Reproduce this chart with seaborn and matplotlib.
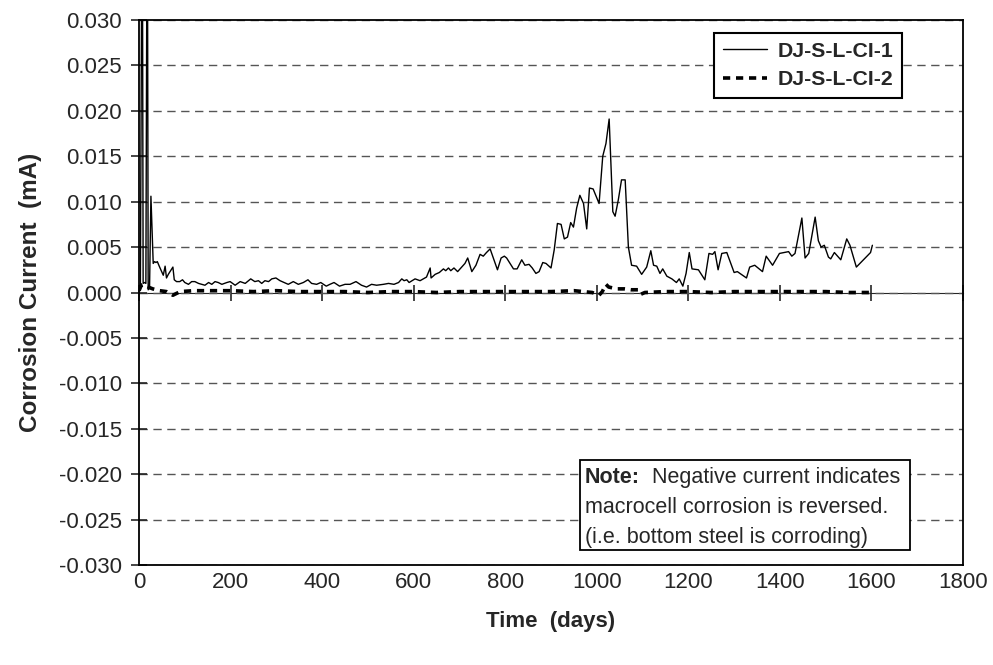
import numpy as np
import pandas as pd
import matplotlib
matplotlib.use("Agg")
import matplotlib.pyplot as plt
from matplotlib.patches import Rectangle
from matplotlib.ticker import FormatStrFormatter, MultipleLocator
import seaborn as sns

# series 1 : DJ-S-L-CI-1 (values in mA)
days1 = [0, 3, 7, 9, 12, 15, 18, 20, 23, 26,
         31, 34, 37, 40, 45, 53, 55, 57, 60, 64,
         74, 77, 82, 89, 95, 100, 108, 115, 122, 130,
         137, 144, 152, 159, 166, 173, 181, 192, 199, 210,
         221, 232, 244, 253, 261, 268, 275, 283, 290, 299,
         308, 317, 326, 337, 348, 359, 369, 377, 388, 397,
         409, 417, 426, 438, 450, 461, 474, 486, 497, 508,
         519, 534, 545, 557, 567, 574, 579, 585, 590, 603,
         614, 621, 628, 636, 638, 647, 656, 665, 670, 676,
         681, 688, 696, 705, 712, 718, 727, 736, 745, 752,
         759, 767, 774, 783, 791, 798, 803, 808, 818, 826,
         836, 843, 852, 859, 867, 874, 882, 889, 900, 907,
         914, 922, 929, 936, 943, 949, 956, 963, 971, 978,
         984, 992, 1005, 1013, 1020, 1027, 1035, 1040, 1047, 1054,
         1062, 1069, 1076, 1087, 1098, 1109, 1118, 1124, 1131, 1138,
         1144, 1153, 1164, 1174, 1180, 1188, 1195, 1202, 1208, 1222,
         1236, 1245, 1253, 1258, 1265, 1273, 1284, 1300, 1307, 1327,
         1334, 1345, 1362, 1370, 1384, 1399, 1419, 1426, 1433, 1448,
         1455, 1463, 1477, 1484, 1490, 1497, 1506, 1511, 1519, 1533,
         1546, 1553, 1567, 1598, 1602]
curr1 = [0.0003, 0.0006, 0.05, 0.0010, 0.0011, 0.0010, 0.05, 0.0003, 0.0005, 0.0106,
         0.0032, 0.0034, 0.0033, 0.0034, 0.0028, 0.0019, 0.0024, 0.0029, 0.0016, 0.0020,
         0.0028, 0.0014, 0.0012, 0.0012, 0.0014, 0.0011, 0.0009, 0.0012, 0.0012, 0.0010,
         0.0009, 0.0008, 0.0011, 0.0009, 0.0012, 0.0011, 0.0009, 0.0011, 0.0012, 0.0008,
         0.0012, 0.0010, 0.0015, 0.0012, 0.0013, 0.0010, 0.0013, 0.0012, 0.0015, 0.0016,
         0.0013, 0.0011, 0.0009, 0.0012, 0.0009, 0.0011, 0.0014, 0.0010, 0.0009, 0.0011,
         0.0007, 0.0009, 0.0011, 0.0007, 0.0009, 0.0009, 0.0012, 0.0008, 0.0006, 0.0009,
         0.0008, 0.0009, 0.0010, 0.0009, 0.0011, 0.0015, 0.0013, 0.0014, 0.0011, 0.0015,
         0.0013, 0.0015, 0.0017, 0.0027, 0.0016, 0.0020, 0.0022, 0.0026, 0.0024, 0.0027,
         0.0024, 0.0027, 0.0023, 0.0028, 0.0032, 0.0038, 0.0023, 0.0030, 0.0042, 0.0040,
         0.0044, 0.0048, 0.0038, 0.0025, 0.0038, 0.0040, 0.0038, 0.0034, 0.0026, 0.0026,
         0.0036, 0.0030, 0.0031, 0.0027, 0.0021, 0.0023, 0.0033, 0.0032, 0.0027, 0.0047,
         0.0076, 0.0075, 0.0059, 0.0061, 0.0077, 0.0072, 0.0093, 0.0107, 0.0098, 0.0070,
         0.0115, 0.0114, 0.0098, 0.0150, 0.0164, 0.0191, 0.0089, 0.0084, 0.0102, 0.0124,
         0.0124, 0.0050, 0.0030, 0.0029, 0.0020, 0.0028, 0.0046, 0.0030, 0.0029, 0.0021,
         0.0026, 0.0018, 0.0015, 0.0011, 0.0015, 0.0007, 0.0021, 0.0044, 0.0026, 0.0025,
         0.0014, 0.0043, 0.0042, 0.0045, 0.0025, 0.0043, 0.0044, 0.0022, 0.0023, 0.0016,
         0.0028, 0.0030, 0.0023, 0.0040, 0.0030, 0.0043, 0.0045, 0.0040, 0.0043, 0.0082,
         0.0038, 0.0043, 0.0083, 0.0057, 0.0050, 0.0052, 0.0039, 0.0037, 0.0044, 0.0036,
         0.0059, 0.0052, 0.0028, 0.0044, 0.0052]

# series 2 : DJ-S-L-CI-2
days2 = [0, 5, 10, 15, 20, 30, 45, 60, 74, 90,
         120, 160, 200, 250, 300, 350, 400, 450, 500, 550,
         600, 650, 700, 750, 800, 850, 900, 950, 990, 1005,
         1012, 1020, 1026, 1035, 1045, 1060, 1075, 1090, 1096, 1105,
         1150, 1200, 1250, 1300, 1350, 1400, 1450, 1500, 1550, 1600]
curr2 = [0.0002, 0.0008, 0.0009, 0.0007, 0.0006, 0.0004, 0.0002, 0.0001, -0.0003, 0.0001,
         0.0002, 0.0002, 0.0002, 0.0001, 0.0002, 0.0001, 0.0001, 0.0001, 0.0000, 0.0001,
         0.0001, 0.0000, 0.0001, 0.0001, 0.0001, 0.0001, 0.0001, 0.0002, 0.0000, -0.0003,
         0.0001, 0.0009, 0.0006, 0.0005, 0.0004, 0.0004, 0.0003, 0.0003, -0.0002, 0.0000,
         0.0001, 0.0001, 0.0000, 0.0001, 0.0001, 0.0001, 0.0001, 0.0001, 0.0000, 0.0000]

labels = ['DJ-S-L-CI-1', 'DJ-S-L-CI-2']
note_head = 'Note:'
note_lines = ['  Negative current indicates',
              'macrocell corrosion is reversed.',
              '(i.e. bottom steel is corroding)']

sns.set_style('white')
plt.rcParams['font.family'] = ['Liberation Sans', 'DejaVu Sans']
plt.rcParams['axes.unicode_minus'] = False

df1 = pd.DataFrame({'day': days1, 'mA': curr1})
df2 = pd.DataFrame({'day': days2, 'mA': curr2})

fig = plt.figure(figsize=(9.93, 6.65), dpi=100)
ax = fig.add_axes([0.14, 0.1504, 0.8298, 0.8195])

sns.lineplot(data=df1, x='day', y='mA', ax=ax, color='black', linewidth=1.0,
             estimator=None, sort=False, label=labels[0], zorder=4)
sns.lineplot(data=df2, x='day', y='mA', ax=ax, color='black', linewidth=2.6,
             estimator=None, sort=False, label=labels[1], zorder=3)
ax.lines[1].set_dashes((2.0, 1.6))

ax.set_xlim(0, 1800)
ax.set_ylim(-0.030, 0.030)
ax.xaxis.set_major_locator(MultipleLocator(200))
ax.yaxis.set_major_locator(MultipleLocator(0.005))
ax.yaxis.set_major_formatter(FormatStrFormatter('%.3f'))

# dashed grid
ax.grid(axis='y', color='#555555', linestyle=(0, (6, 4)), linewidth=1.0, zorder=1)
ax.grid(axis='x', visible=False)

for s in ax.spines.values():
    s.set_color('black')
    s.set_linewidth(1.3)

ax.tick_params(axis='x', length=0, pad=5, labelsize=16)
ax.tick_params(axis='y', direction='inout', length=11, width=1.2, left=True,
               pad=7, labelsize=16)

# x axis crossing at zero, ticks on it
zx = ax.secondary_xaxis(0.5)
zx.set_xticks(np.arange(0, 1801, 200))
zx.tick_params(direction='out', length=6, width=1.2, labelbottom=False,
               labeltop=False, bottom=True, top=True)
zx.spines['bottom'].set_linewidth(1.3)
zx.spines['bottom'].set_color('black')

ax.set_xlabel('Time  (days)', fontsize=16, fontweight='bold', labelpad=13)
ax.set_ylabel('Corrosion Current  (mA)', fontsize=17.5, fontweight='bold', labelpad=12)

leg = ax.legend(loc='upper right', bbox_to_anchor=(0.926, 0.976), frameon=True,
                fancybox=False, edgecolor='black', framealpha=1,
                prop={'weight': 'bold', 'size': 15.3}, handlelength=2.1,
                handletextpad=0.5, borderpad=0.4, labelspacing=0.45,
                borderaxespad=0)
leg.get_frame().set_linewidth(1.5)

# note box
ax.add_patch(Rectangle((0.535, 0.0275), 0.401, 0.166, transform=ax.transAxes,
                       facecolor='white', edgecolor='black', linewidth=1.3, zorder=5))
t0 = ax.text(0.541, 0.161, note_head, transform=ax.transAxes, fontsize=15.5,
             fontweight='bold', va='center', ha='left', zorder=6)
ax.annotate(note_lines[0], xy=(1, 0), xycoords=t0, va='bottom', ha='left',
            fontsize=15.5, zorder=6)
ax.text(0.541, 0.105, note_lines[1], transform=ax.transAxes, fontsize=15.5,
        va='center', ha='left', zorder=6)
ax.text(0.541, 0.050, note_lines[2], transform=ax.transAxes, fontsize=15.5,
        va='center', ha='left', zorder=6)

fig.savefig('out.png', dpi=100)
